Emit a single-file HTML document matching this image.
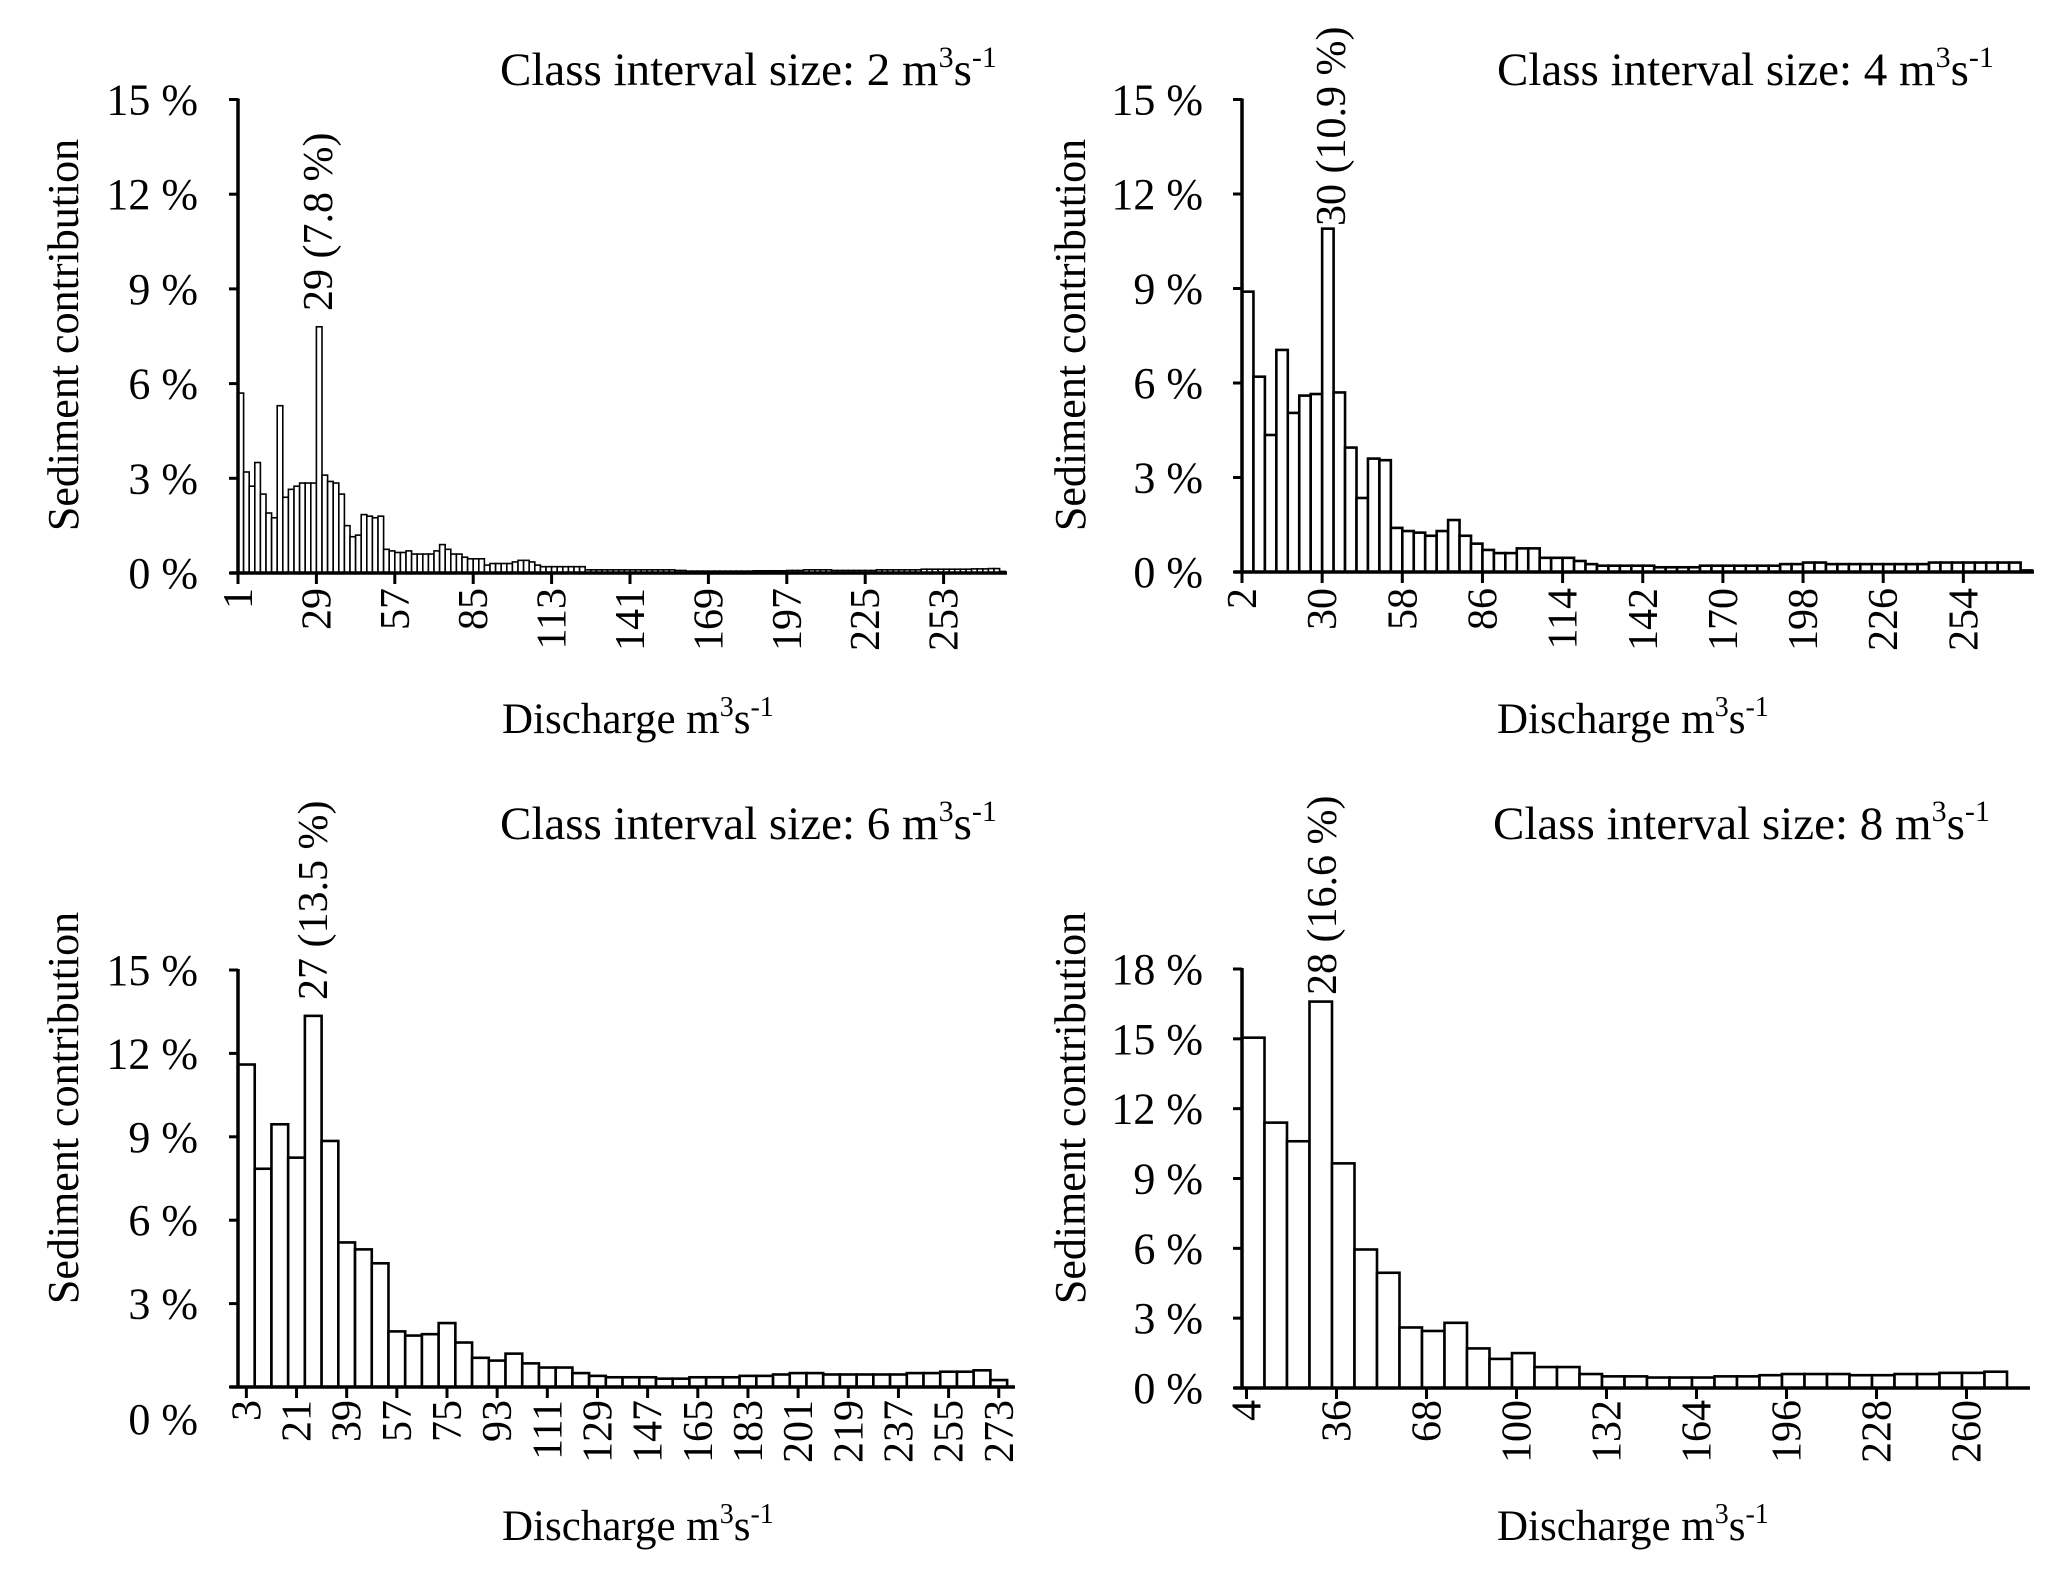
<!DOCTYPE html>
<html><head><meta charset="utf-8">
<style>
html,body{margin:0;padding:0;background:#fff;}
svg{display:block;font-family:"Liberation Serif","Times New Roman",serif;}
</style></head>
<body>
<svg id="fig" width="2067" height="1583" viewBox="0 0 2067 1583" xmlns="http://www.w3.org/2000/svg"></svg>
<script>
// ---- data ----
const p1Values = [5.7,3.2,2.75,3.5,2.5,1.9,1.75,5.3,2.4,2.65,2.75,2.85,2.85,2.85,7.8,3.1,2.9,2.85,2.5,1.5,1.15,1.2,1.85,1.8,1.75,1.8,0.75,0.7,
0.65,0.65,0.7,0.6,0.6,0.6,0.6,0.7,0.9,0.75,0.6,0.6,0.5,0.45,0.45,0.45,0.25,0.3,0.3,0.3,0.3,0.35,0.4,0.4,0.35,0.25,
0.2,0.2,0.2,0.2,0.2,0.2,0.2,0.2,0.1,0.1,0.1,0.1,0.1,0.1,0.1,0.1,0.1,0.1,0.1,0.1,0.1,0.1,0.1,0.1,0.08,0.08,0.06,0.06,
0.06,0.06,0.06,0.06,0.06,0.06,0.06,0.06,0.06,0.06,0.07,0.07,0.07,0.07,0.07,0.07,0.08,0.08,0.08,0.1,0.1,0.1,0.1,0.1,
0.08,0.08,0.08,0.08,0.08,0.08,0.08,0.08,0.1,0.1,0.1,0.1,0.1,0.1,0.1,0.1,0.12,0.12,0.12,0.12,0.12,0.12,0.12,0.12,0.12,
0.13,0.13,0.13,0.14,0.14,0.05];
const p1Ticks = [1,29,57,85,113,141,169,197,225,253];
const p2Values = [8.9,6.2,4.35,7.05,5.05,5.6,5.65,10.9,5.7,3.95,2.35,3.6,3.55,1.4,1.3,1.25,1.15,1.3,1.65,1.15,0.9,0.7,0.6,0.6,0.75,0.75,0.45,0.45,0.45,0.35,
0.25,0.2,0.2,0.2,0.2,0.2,0.15,0.15,0.15,0.15,0.2,0.2,0.2,0.2,0.2,0.2,0.2,0.25,0.25,0.3,0.3,0.25,0.25,0.25,0.25,0.25,0.25,0.25,0.25,0.25,
0.3,0.3,0.3,0.3,0.3,0.3,0.3,0.3,0.05];
const p2Ticks = [2,30,58,86,114,142,170,198,226,254];
const p3Values = [11.6,7.85,9.45,8.25,13.35,8.85,5.2,4.95,4.45,2.0,1.85,1.9,2.3,1.6,1.05,0.95,1.2,0.85,0.7,0.7,0.5,0.4,0.35,0.35,0.35,0.3,0.3,0.35,0.35,0.35,0.4,0.4,0.45,0.5,0.5,0.45,0.45,0.45,0.45,0.45,0.5,0.5,0.55,0.55,0.6,0.25];
const p3Ticks = [3,21,39,57,75,93,111,129,147,165,183,201,219,237,255,273];
const p4Values = [15.05,11.4,10.6,16.6,9.65,5.95,4.95,2.6,2.45,2.8,1.7,1.25,1.5,0.9,0.9,0.6,0.5,0.5,0.45,0.45,0.45,0.5,0.5,0.55,0.6,0.6,0.6,0.55,0.55,0.6,0.6,0.65,0.65,0.7];
const p4Ticks = [4,36,68,100,132,164,196,228,260];
const p1YTicks = [0,3,6,9,12,15];
const p3YTicks = [0,3,6,9,12,15];
const p4YTicks = [0,3,6,9,12,15,18];
const peakLabels = ["29 (7.8 %)","30 (10.9 %)","27 (13.5 %)","28 (16.6 %)"];
const intervals = [2,4,6,8];

const NS="http://www.w3.org/2000/svg";
const svg=document.getElementById('fig');
function mk(tag,attrs,parent){const e=document.createElementNS(NS,tag);for(const k in attrs)e.setAttribute(k,attrs[k]);(parent||svg).appendChild(e);return e;}

const panels=[
 {vals:p1Values,ticks:p1Ticks,yt:p1YTicks,first:1,x0:238,y0:573,yTop:99.5,yMax:15,w:5.6,xEnd:1007,tickOff:0,
  title:[500,85],ylab:198,ytitle:[63,335],xtitle:[502,733],peak:[318,311],zeroOff:0,xlabTop:588},
 {vals:p2Values,ticks:p2Ticks,yt:p1YTicks,first:2,x0:1242,y0:572,yTop:99.5,yMax:15,w:11.45,xEnd:2034,tickOff:0,
  title:[1497,85],ylab:1203,ytitle:[1070,335],xtitle:[1497,733],peak:[1331,226],zeroOff:0,xlabTop:588},
 {vals:p3Values,ticks:p3Ticks,yt:p3YTicks,first:3,x0:238,y0:1387,yTop:970,yMax:15,w:16.72,xEnd:1015,tickOff:0.5,
  title:[500,839],ylab:198,ytitle:[63,1108],xtitle:[502,1540],peak:[313,1000],zeroOff:32,xlabTop:1400},
 {vals:p4Values,ticks:p4Ticks,yt:p4YTicks,first:4,x0:1242,y0:1388,yTop:969,yMax:18,w:22.5,xEnd:2030,tickOff:0.2,
  title:[1493,839],ylab:1203,ytitle:[1070,1108],xtitle:[1497,1540],peak:[1322,995],zeroOff:0,xlabTop:1400}
];

panels.forEach((p,pi)=>{
  const g=mk('g',{});
  
  
  const yS=v=>p.y0-(v/p.yMax)*(p.y0-p.yTop);
  const xS=i=>p.x0+i*p.w;
  p.vals.forEach((v,i)=>{
    const r=mk('rect',{x:xS(i),y:yS(v),width:p.w,height:p.y0-yS(v),fill:'#fff',stroke:'#000','stroke-width':pi===0?1.6:2.6},g);
    
    
  });
  const ya=mk('line',{x1:p.x0,y1:p.yTop-1,x2:p.x0,y2:p.y0,stroke:'#000','stroke-width':3.5},g);
  
  
  const xa=mk('line',{x1:p.x0-8,y1:p.y0,x2:p.xEnd,y2:p.y0,stroke:'#000','stroke-width':3.5},g);
  
  
  p.yt.forEach(v=>{
    const y=yS(v);
    mk('line',{x1:p.x0-9,y1:y,x2:p.x0,y2:y,stroke:'#000','stroke-width':3},g);
    const t=mk('text',{x:p.ylab,y:y+(v===0?p.zeroOff:0)+15,'text-anchor':'end','font-size':44},g);
    t.textContent=v+' %';
    
    
  });
  p.ticks.forEach(v=>{
    const x=xS((v-p.first)/intervals[pi]+p.tickOff);
    mk('line',{x1:x,y1:p.y0,x2:x,y2:p.y0+11,stroke:'#000','stroke-width':3},g);
    const t=mk('text',{x:0,y:0,'text-anchor':'end','font-size':42,transform:`translate(${x+14},${p.xlabTop}) rotate(-90)`},g);
    t.textContent=v;
    
    
  });
  const tt=mk('text',{x:p.title[0],y:p.title[1],'font-size':47},g);
  tt.innerHTML='Class interval size: '+intervals[pi]+' m<tspan font-size="30" dy="-18">3</tspan><tspan dy="18">s</tspan><tspan font-size="30" dy="-18">-1</tspan>';
  
  
  const yt=mk('text',{x:0,y:0,'text-anchor':'middle','font-size':44,transform:`translate(${p.ytitle[0]+15},${p.ytitle[1]}) rotate(-90)`},g);
  yt.textContent='Sediment contribution';
  
  
  const xt=mk('text',{x:p.xtitle[0],y:p.xtitle[1],'font-size':43},g);
  xt.innerHTML='Discharge m<tspan font-size="28" dy="-17">3</tspan><tspan dy="17">s</tspan><tspan font-size="28" dy="-17">-1</tspan>';
  
  
  const pk=mk('text',{x:0,y:0,'font-size':42,transform:`translate(${p.peak[0]+14},${p.peak[1]}) rotate(-90)`},g);
  pk.textContent=peakLabels[pi];
  
  
});
</script>
</body></html>
